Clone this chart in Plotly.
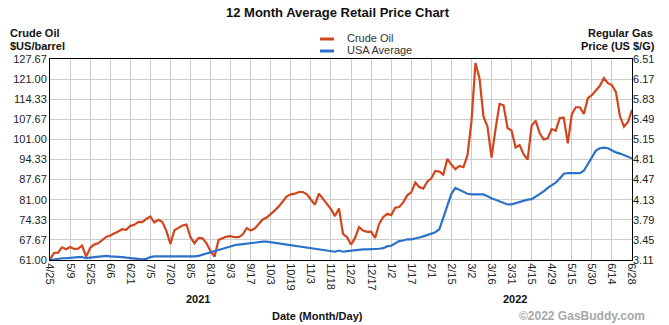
import plotly.graph_objects as go

# ---- data ----
tick_labels = ["4/25", "5/9", "5/25", "6/6", "6/21", "7/5", "7/20", "8/5", "8/19", "9/3",
               "9/17", "10/3", "10/19", "11/3", "11/18", "12/2", "12/17", "1/2", "1/17", "2/1",
               "2/15", "3/2", "3/16", "3/31", "4/15", "4/29", "5/15", "5/30", "6/14", "6/28"]

crude_oil = [61.22, 63.33, 63.44, 65.22, 64.56, 65.33, 64.67, 64.78, 65.78, 62.11,
             65.0, 66.11, 66.56, 67.67, 68.67, 69.11, 69.67, 70.44, 71.22, 71.0,
             72.33, 72.67, 73.67, 73.56, 74.67, 75.44, 73.44, 74.33, 73.56, 70.67,
             66.33, 70.89, 71.67, 72.44, 72.78, 68.56, 66.56, 68.33, 68.22, 66.56,
             63.89, 62.11, 67.67, 68.33, 68.78, 68.89, 68.56, 68.56, 69.44, 71.56,
             70.78, 71.44, 73.0, 74.44, 75.11, 76.22, 77.44, 78.78, 80.56, 82.11,
             82.78, 83.0, 83.56, 83.56, 82.78, 81.0, 79.33, 83.0, 81.33, 79.67,
             77.89, 75.56, 78.11, 69.67, 68.56, 66.11, 68.33, 71.89, 70.78, 70.33,
             70.44, 68.33, 73.0, 75.22, 76.33, 75.89, 78.33, 78.56, 80.11, 82.44,
             83.44, 86.67, 85.22, 84.67, 87.0, 88.11, 90.56, 90.33, 89.33, 94.56,
             92.56, 91.11, 92.22, 91.78, 95.67, 106.89, 126.33, 121.33, 108.56, 105.22,
             95.0, 104.44, 112.78, 112.33, 104.78, 103.89, 98.33, 99.11, 96.0, 94.33,
             105.56, 107.22, 103.0, 101.0, 101.33, 104.44, 103.89, 108.11, 108.22, 99.67,
             109.33, 111.67, 111.67, 109.44, 114.67, 115.67, 117.22, 118.78, 121.33, 119.67,
             119.0, 116.67, 108.67, 105.22, 106.78, 110.78]

usa_average = [3.11, 3.12, 3.14, 3.14, 3.14, 3.15, 3.16, 3.16, 3.16, 3.14,
               3.15, 3.16, 3.16, 3.17, 3.18, 3.17, 3.17, 3.17, 3.16, 3.15,
               3.14, 3.13, 3.12, 3.12, 3.13, 3.16, 3.17, 3.17, 3.16, 3.16,
               3.16, 3.17, 3.17, 3.17, 3.17, 3.17, 3.17, 3.18, 3.20, 3.22,
               3.25, 3.27, 3.29, 3.31, 3.33, 3.35, 3.36, 3.37, 3.38, 3.39,
               3.40, 3.41, 3.42, 3.42, 3.42, 3.41, 3.41, 3.40, 3.39, 3.38,
               3.37, 3.36, 3.35, 3.34, 3.33, 3.31, 3.31, 3.30, 3.29, 3.28,
               3.26, 3.25, 3.27, 3.25, 3.26, 3.27, 3.27, 3.28, 3.29, 3.29,
               3.29, 3.30, 3.30, 3.31, 3.34, 3.35, 3.39, 3.43, 3.44, 3.46,
               3.46, 3.47, 3.49, 3.51, 3.53, 3.56, 3.58, 3.63, 3.84, 4.02,
               4.23, 4.33, 4.30, 4.27, 4.23, 4.22, 4.22, 4.23, 4.22, 4.19,
               4.15, 4.13, 4.10, 4.07, 4.05, 4.05, 4.07, 4.10, 4.11, 4.13,
               4.14, 4.18, 4.22, 4.27, 4.33, 4.38, 4.42, 4.49, 4.57, 4.58,
               4.58, 4.58, 4.58, 4.62, 4.74, 4.84, 4.96, 5.00, 5.01, 5.00,
               4.96, 4.93, 4.91, 4.88, 4.86, 4.83]

crude_ticks = [61.00, 67.67, 74.33, 81.00, 87.67, 94.33, 101.00, 107.67, 114.33, 121.00, 127.67]
gas_ticks = [3.11, 3.45, 3.79, 4.13, 4.47, 4.81, 5.15, 5.49, 5.83, 6.17, 6.51]

# ---- styling ----
RED = "#d2461e"
BLUE = "#2b72c8"
FONT = "Liberation Sans, Arial, sans-serif"
n = len(crude_oil)
x_idx = list(range(n))
step = (n - 1) // (len(tick_labels) - 1)
tick_vals = [i * step for i in range(len(tick_labels))]

fig = go.Figure()
fig.add_trace(go.Scatter(x=x_idx, y=crude_oil, mode="lines", name="Crude Oil",
                         line=dict(color=RED, width=2.2), yaxis="y"))
fig.add_trace(go.Scatter(x=x_idx, y=usa_average, mode="lines", name="USA Average",
                         line=dict(color=BLUE, width=2.2), yaxis="y2"))

fig.update_layout(
    width=669, height=325,
    margin=dict(l=50, r=37, t=59, b=65),
    paper_bgcolor="white", plot_bgcolor="white",
    showlegend=False,
    font=dict(family=FONT, size=11, color="#222"),
    xaxis=dict(range=[0, n - 1], tickmode="array", tickvals=tick_vals, ticktext=tick_labels,
               tickangle=90, showgrid=True, gridcolor="#cccccc", gridwidth=1,
               showline=True, linecolor="black", linewidth=1, mirror=True,
               zeroline=False, ticks="", tickfont=dict(size=11, color="#222")),
    yaxis=dict(range=[crude_ticks[0], crude_ticks[-1]], tickmode="array", tickvals=crude_ticks,
               ticktext=[f"{v:.2f}" for v in crude_ticks],
               showgrid=True, gridcolor="#cccccc", gridwidth=1,
               showline=True, linecolor="black", linewidth=1, mirror=True,
               zeroline=False, ticks="", tickfont=dict(size=11, color="#222")),
    yaxis2=dict(range=[gas_ticks[0], gas_ticks[-1]], tickmode="array", tickvals=gas_ticks,
                ticktext=[f"{v:.2f}" for v in gas_ticks], overlaying="y", side="right",
                showgrid=False, zeroline=False, showline=False, ticks="",
                tickfont=dict(size=11, color="#222")),
)

ann = [
    dict(text="<b>12 Month Average Retail Price Chart</b>", x=338, y=13, size=13, color="#111", xanchor="center"),
    dict(text="<b>Crude Oil</b>", x=8, y=33, size=11, color="#111", xanchor="left"),
    dict(text="<b>$US/barrel</b>", x=8, y=46, size=11, color="#111", xanchor="left"),
    dict(text="<b>Regular Gas</b>", x=655, y=33, size=11, color="#111", xanchor="right"),
    dict(text="<b>Price (US $/G)</b>", x=657, y=46, size=11, color="#111", xanchor="right"),
    dict(text="Crude Oil", x=345, y=38, size=11, color="#333", xanchor="left"),
    dict(text="USA Average", x=345, y=50, size=11, color="#333", xanchor="left"),
    dict(text="<b>2021</b>", x=198, y=299, size=11, color="#111", xanchor="center"),
    dict(text="<b>2022</b>", x=515, y=299, size=11, color="#111", xanchor="center"),
    dict(text="<b>Date (Month/Day)</b>", x=317, y=316, size=11, color="#111", xanchor="center"),
    dict(text="<b>©2022 GasBuddy.com</b>", x=582, y=316, size=12, color="#a8a8a8", xanchor="center"),
]
W, H = 669, 325
ml, mr, mt, mb = 50, 37, 59, 65
pw, ph = W - ml - mr, H - mt - mb
for a in ann:
    fig.add_annotation(text=a["text"], xref="paper", yref="paper",
                       x=(a["x"] - ml) / pw, y=(H - mb - a["y"]) / ph,
                       xanchor=a["xanchor"], yanchor="middle", showarrow=False,
                       font=dict(family=FONT, size=a["size"], color=a["color"]))

# legend swatches
for yy, col in [(39, RED), (51, BLUE)]:
    fig.add_shape(type="line", xref="paper", yref="paper",
                  x0=(320 - ml) / pw, x1=(334 - ml) / pw,
                  y0=(H - mb - yy) / ph, y1=(H - mb - yy) / ph,
                  line=dict(color=col, width=3))

fig.write_html("out.html")
